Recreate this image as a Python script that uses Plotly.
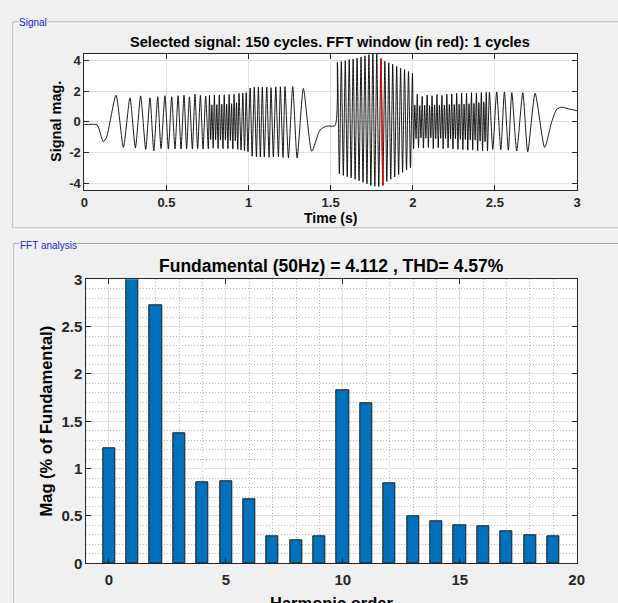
import plotly.graph_objects as go

W, H = 618, 603

# ---------------- Signal (extrema) ----------------
seg1_t = [0.000, 0.040, 0.078, 0.116, 0.136, 0.193, 0.238, 0.278, 0.311, 0.343, 0.374, 0.400,
          0.423, 0.447, 0.467, 0.491, 0.512, 0.532, 0.552, 0.571, 0.589, 0.607, 0.623, 0.640,
          0.658, 0.674, 0.690, 0.707, 0.723, 0.739, 0.755]
seg1_v = [-0.18, -0.17, -0.20, -1.30, -1.00, 1.73, -1.67, 1.56, -1.70, 1.69, -1.80, 1.56,
          -1.89, 1.63, -1.74, 1.70, -1.78, 1.63, -1.78, 1.70, -1.78, 1.73, -1.75, 1.63,
          -1.78, 1.80, -1.75, 1.72, -1.78, 1.68, -1.76]

seg2_t = [0.762, 0.7695, 0.777, 0.7845, 0.792, 0.7995, 0.807, 0.8145, 0.822, 0.8295, 0.837,
          0.8445, 0.852, 0.8595, 0.867, 0.8745, 0.882, 0.8895, 0.897, 0.9045, 0.912, 0.9195,
          0.927, 0.9345, 0.942,
          0.9545, 0.965, 0.9755, 0.986, 0.9965, 1.010, 1.022]
seg2_v = [1.72, -1.15, 1.10, -1.72, 1.74, -1.18, 1.12, -1.74, 1.75, -1.20, 1.15,
          -1.75, 1.76, -1.20, 1.15, -1.76, 1.78, -1.22, 1.18, -1.78, 1.80, -1.25,
          1.25, -1.80, 1.85,
          -1.85, 1.88, -1.88, 1.90, -1.95, 2.20, -2.25]

seg3_t = [1.035, 1.048, 1.060, 1.072, 1.084, 1.096, 1.111, 1.125, 1.137, 1.151, 1.166, 1.182,
          1.194, 1.210, 1.222, 1.243, 1.269, 1.296, 1.334, 1.385, 1.435, 1.476, 1.527]
seg3_v = [2.25, -2.30, 2.25, -2.30, 2.25, -2.30, 2.25, -2.32, 2.22, -2.30, 2.28, -2.28,
          2.28, -2.33, 2.30, -2.35, 2.30, -2.37, 2.17, -1.92, -0.54, -0.28, -0.25]

seg4_t = [1.541, 1.553, 1.565, 1.577, 1.589, 1.601, 1.613, 1.625, 1.637, 1.649, 1.661, 1.673,
          1.685, 1.697, 1.709, 1.721, 1.733, 1.745, 1.757, 1.769, 1.781, 1.793, 1.806, 1.818,
          1.830, 1.842, 1.854, 1.866, 1.878, 1.890, 1.902, 1.914, 1.926, 1.938, 1.950, 1.962,
          1.974, 1.986, 1.998]
seg4_v = [3.87, -3.40, 3.93, -3.50, 3.98, -3.58, 4.05, -3.66, 4.10, -3.75, 4.16, -3.85,
          4.22, -3.95, 4.30, -4.05, 4.38, -4.15, 4.45, -4.20, 4.42, -4.22, 4.12, -4.15,
          3.95, -3.90, 3.85, -3.75, 3.75, -3.60, 3.62, -3.45, 3.50, -3.30, 3.40, -3.15,
          3.28, -3.00, 3.15]

seg5_t = [2.005, 2.0125, 2.020, 2.0275, 2.035, 2.0425, 2.050, 2.0575, 2.065, 2.0725, 2.080,
          2.0875, 2.095, 2.1025, 2.110, 2.1175, 2.125, 2.1325, 2.140, 2.1475, 2.155, 2.1625,
          2.170, 2.1775, 2.185, 2.1925, 2.200, 2.2075, 2.215, 2.2225, 2.230, 2.2375, 2.245,
          2.2525, 2.260, 2.2675, 2.275, 2.2825, 2.290, 2.2975, 2.305, 2.3125, 2.320, 2.3275,
          2.335, 2.3425, 2.350, 2.3575, 2.365, 2.3725, 2.380, 2.3875, 2.395, 2.4025, 2.410,
          2.4175, 2.425, 2.4325, 2.440, 2.4475, 2.455]
seg5_v = [-1.75, 1.10, -1.10, 1.80, -1.70, 1.05, -1.05, 1.65, -1.72, 1.08, -1.08,
          1.75, -1.68, 1.05, -1.05, 1.70, -1.75, 1.10, -1.10, 1.78, -1.70, 1.08,
          -1.08, 1.72, -1.75, 1.10, -1.10, 1.80, -1.72, 1.12, -1.12, 1.82, -1.78,
          1.12, -1.12, 1.85, -1.80, 1.15, -1.15, 1.88, -1.82, 1.15, -1.15, 1.85,
          -1.85, 1.18, -1.18, 1.90, -1.85, 1.20, -1.20, 1.88, -1.88, 1.25, -1.25,
          1.90, -1.90, 1.30, -1.30, 1.92, -1.90]

seg6_t = [2.467, 2.487, 2.511, 2.536, 2.558, 2.582, 2.603, 2.633, 2.670, 2.700, 2.745, 2.803,
          2.846, 2.877, 2.907, 2.958, 3.000]
seg6_v = [1.93, -1.80, 1.95, -1.82, 1.95, -1.85, 1.90, -1.90, 1.90, -1.95, 1.85, -1.67,
          0.00, 0.82, 0.95, 0.82, 0.72]

fft_window = [1.800, 1.826]   # seconds (1 cycle of 50 Hz)

# ---------------- FFT analysis ----------------
harm_order = list(range(20))
harm_mag = [1.21, 100.0, 2.725, 1.37, 0.855, 0.865, 0.675, 0.285, 0.245, 0.285,
            1.83, 1.685, 0.845, 0.495, 0.44, 0.40, 0.39, 0.335, 0.295, 0.285]

top_xticks = [0, 0.5, 1, 1.5, 2, 2.5, 3]
top_xlabels = ["0", "0.5", "1", "1.5", "2", "2.5", "3"]
top_yticks = [-4, -2, 0, 2, 4]
top_ylabels = ["-4", "-2", "0", "2", "4"]
bot_xticks = [0, 5, 10, 15, 20]
bot_yticks = [0, 0.5, 1, 1.5, 2, 2.5, 3]

title_top = "Selected signal: 150 cycles. FFT window (in red): 1 cycles"
title_bot = "Fundamental (50Hz) = 4.112 , THD= 4.57%"

sig_t = seg1_t + seg2_t + seg3_t + seg4_t + seg5_t + seg6_t
sig_v = seg1_v + seg2_v + seg3_v + seg4_v + seg5_v + seg6_v
win_t = [t for t in sig_t if fft_window[0] <= t <= fft_window[1]]
win_v = [v for t, v in zip(sig_t, sig_v) if fft_window[0] <= t <= fft_window[1]]

FONT = "Liberation Sans, Arial, Helvetica, sans-serif"


def px(x):
    return x / W


def py(y):
    return 1 - y / H


fig = go.Figure()
fig.add_trace(go.Scatter(x=sig_t, y=sig_v, mode="lines",
                         line=dict(color="#000000", width=0.9, shape="spline", smoothing=0.6),
                         xaxis="x", yaxis="y", hoverinfo="skip", showlegend=False))
fig.add_trace(go.Scatter(x=win_t, y=win_v, mode="lines", line=dict(color="#ff0000", width=1.5),
                         xaxis="x", yaxis="y", hoverinfo="skip", showlegend=False))
fig.add_trace(go.Bar(x=harm_order, y=harm_mag, width=0.52,
                     marker=dict(color="#0072BD", line=dict(color="#1a1a1a", width=1)),
                     xaxis="x2", yaxis="y2", hoverinfo="skip", showlegend=False))

axis_common = dict(showline=True, linecolor="#262626", linewidth=1, mirror="allticks",
                   ticks="inside", ticklen=5, tickcolor="#262626", zeroline=False,
                   showgrid=True, gridcolor="#e1e1e1", gridwidth=1, automargin=False,
                   tickfont=dict(family=FONT, size=13, color="#262626", weight="bold"))

fig.update_layout(
    template="none",
    autosize=True, margin=dict(l=0, r=0, t=0, b=0, pad=0),
    paper_bgcolor="#f0f0f0", plot_bgcolor="#ffffff",
    xaxis=dict(axis_common, domain=[px(84.3), px(577)], range=[0, 3], tickvals=top_xticks,
               ticktext=top_xlabels, anchor="y"),
    yaxis=dict(axis_common, domain=[py(190), py(54)], range=[-4.45, 4.42], tickvals=top_yticks,
               ticktext=top_ylabels, anchor="x"),
    xaxis2=dict(axis_common, domain=[px(86.3), px(576.7)], range=[-0.97, 20], tickvals=bot_xticks,
                anchor="y2", ticklabelstandoff=3,
                minor=dict(dtick=1, tick0=0, showgrid=True, gridcolor="#b9b9b9", griddash="1px,2px", ticks=""),
                tickfont=dict(family=FONT, size=15, color="#262626", weight="bold")),
    yaxis2=dict(axis_common, domain=[py(563.3), py(279.3)], range=[0, 3], tickvals=bot_yticks,
                anchor="x2",
                minor=dict(dtick=0.1, tick0=0, showgrid=True, gridcolor="#b9b9b9", griddash="1px,2px", ticks=""),
                tickfont=dict(family=FONT, size=15, color="#262626", weight="bold")),
    bargap=0,
)

# panel frames (etched)
shapes = []
for (x0, y0, x1, y1) in [(13, 22, 640, 228), (14, 243.5, 640, 700)]:
    shapes.append(dict(type="rect", xref="paper", yref="paper", x0=px(x0), y0=py(y0), x1=px(x1), y1=py(y1),
                       line=dict(color="#a0a0a0", width=1), layer="below"))
    shapes.append(dict(type="rect", xref="paper", yref="paper", x0=px(x0 + 1), y0=py(y0 + 1), x1=px(x1 + 1), y1=py(y1 + 1),
                       line=dict(color="#ffffff", width=1), layer="below"))
fig.update_layout(shapes=shapes)

ann = []


def text(s, x, y, size, angle=0, color="#000000", bold=True, bg=None, xanchor="center"):
    d = dict(text=("<b>%s</b>" % s) if bold else s, x=px(x), y=py(y), xref="paper", yref="paper",
             showarrow=False, xanchor=xanchor, yanchor="middle", textangle=angle,
             font=dict(family=FONT, size=size, color=color))
    if bg:
        d["bgcolor"] = bg
        d["borderpad"] = 0
    ann.append(d)


text("Signal", 18, 22, 10, color="#2020d0", bold=False, bg="#f0f0f0", xanchor="left")
text("FFT analysis", 19, 245, 10, color="#2020d0", bold=False, bg="#f0f0f0", xanchor="left")
text(title_top, 330.5, 42, 14.6)
text("Time (s)", 330.5, 218, 14)
text("Signal mag.", 56, 122, 14.5, angle=-90)
text(title_bot, 331, 266, 17.5)
text("Mag (% of Fundamental)", 45, 421.5, 16.5, angle=-90)
text("Harmonic order", 331, 603, 16.5)
fig.update_layout(annotations=ann)

fig.write_html("out.html", config={"displayModeBar": False},
               default_width="618px;position:absolute;left:0px;top:0px",
               default_height="603px")
